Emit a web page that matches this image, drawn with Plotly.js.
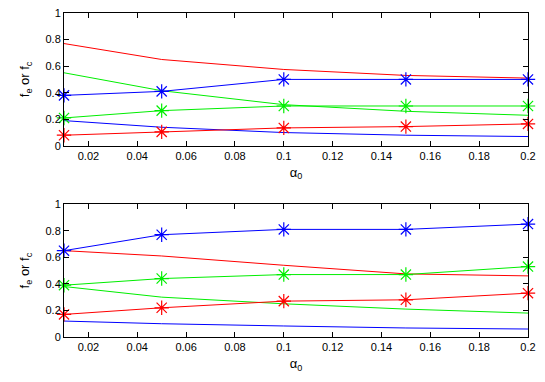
<!DOCTYPE html>
<html>
<head>
<meta charset="utf-8">
<script src="https://cdn.plot.ly/plotly-3.0.1.min.js"></script>
<style>
	body { margin: 0; background: white; }
	#plot { width: 545px; height: 382px; }
</style>
</head>
<body>
<div id="plot"></div>
<script>
// alpha_0 values
let alpha0 = [0.01, 0.05, 0.1, 0.15, 0.2];

// top panel
let topRedLine = [0.77, 0.65, 0.575, 0.53, 0.51];
let topRedStar = [0.08, 0.105, 0.135, 0.145, 0.165];
let topGreenLine = [0.55, 0.415, 0.31, 0.26, 0.23];
let topGreenStar = [0.21, 0.265, 0.30, 0.30, 0.30];
let topBlueLine = [0.19, 0.14, 0.10, 0.08, 0.07];
let topBlueStar = [0.38, 0.41, 0.50, 0.50, 0.50];

// bottom panel
let botRedLine = [0.65, 0.61, 0.54, 0.475, 0.46];
let botRedStar = [0.17, 0.22, 0.27, 0.28, 0.33];
let botGreenLine = [0.38, 0.30, 0.25, 0.21, 0.18];
let botGreenStar = [0.39, 0.44, 0.47, 0.47, 0.53];
let botBlueLine = [0.12, 0.10, 0.083, 0.068, 0.06];
let botBlueStar = [0.65, 0.77, 0.81, 0.81, 0.85];

let xTickVals = [0.02, 0.04, 0.06, 0.08, 0.1, 0.12, 0.14, 0.16, 0.18, 0.2];
let xTickText = ["0.02", "0.04", "0.06", "0.08", "0.1", "0.12", "0.14", "0.16", "0.18", "0.2"];
let yTickVals = [0, 0.2, 0.4, 0.6, 0.8, 1];
let yTickText = ["0", "0.2", "0.4", "0.6", "0.8", "1"];

const RED = "#ff0000";
const GREEN = "#00ee00";
const BLUE = "#0000ff";

const lineTrace = (y, color, xa, ya) => ({
	type: "scatter",
	x: alpha0,
	y: y,
	mode: "lines",
	line: { color: color, width: 1 },
	xaxis: xa,
	yaxis: ya,
	showlegend: false
});

const starTrace = (y, color, xa, ya) => ({
	type: "scatter",
	x: alpha0,
	y: y,
	mode: "lines+markers",
	line: { color: color, width: 1 },
	marker: {
		symbol: "asterisk-open",
		size: 12,
		color: color,
		line: { color: color, width: 1.2 }
	},
	cliponaxis: false,
	xaxis: xa,
	yaxis: ya,
	showlegend: false
});

let traces = [
	lineTrace(topRedLine, RED, "x", "y"),
	lineTrace(topGreenLine, GREEN, "x", "y"),
	lineTrace(topBlueLine, BLUE, "x", "y"),
	starTrace(topRedStar, RED, "x", "y"),
	starTrace(topGreenStar, GREEN, "x", "y"),
	starTrace(topBlueStar, BLUE, "x", "y"),
	lineTrace(botRedLine, RED, "x2", "y2"),
	lineTrace(botGreenLine, GREEN, "x2", "y2"),
	lineTrace(botBlueLine, BLUE, "x2", "y2"),
	starTrace(botRedStar, RED, "x2", "y2"),
	starTrace(botGreenStar, GREEN, "x2", "y2"),
	starTrace(botBlueStar, BLUE, "x2", "y2")
];

const xAxis = (anchor, domainY) => ({
	anchor: anchor,
	range: [0.01, 0.2],
	tickvals: xTickVals,
	ticktext: xTickText,
	ticks: "inside",
	ticklen: 5,
	tickcolor: "#000",
	showline: true,
	linecolor: "#000",
	linewidth: 1,
	mirror: "allticks",
	showgrid: false,
	zeroline: false,
	title: { text: "α<sub>0</sub>", standoff: 6 }
});

const yAxis = (anchor, domain) => ({
	anchor: anchor,
	domain: domain,
	range: [0, 1],
	tickvals: yTickVals,
	ticktext: yTickText,
	ticks: "inside",
	ticklen: 5,
	tickcolor: "#000",
	showline: true,
	linecolor: "#000",
	linewidth: 1,
	mirror: "allticks",
	showgrid: false,
	zeroline: false,
	title: { text: "f<sub>e</sub> or f<sub>c</sub>", standoff: 12 }
});

let layout = {
	width: 545,
	height: 382,
	margin: { l: 64, r: 17, t: 13, b: 45 },
	paper_bgcolor: "white",
	plot_bgcolor: "white",
	font: { family: "Liberation Sans, Arial, sans-serif", size: 11, color: "#000" },
	xaxis: xAxis("y"),
	yaxis: yAxis("x", [0.59, 1]),
	xaxis2: xAxis("y2"),
	yaxis2: yAxis("x2", [0, 0.41])
};

Plotly.newPlot("plot", traces, layout, { staticPlot: true });
</script>
</body>
</html>
